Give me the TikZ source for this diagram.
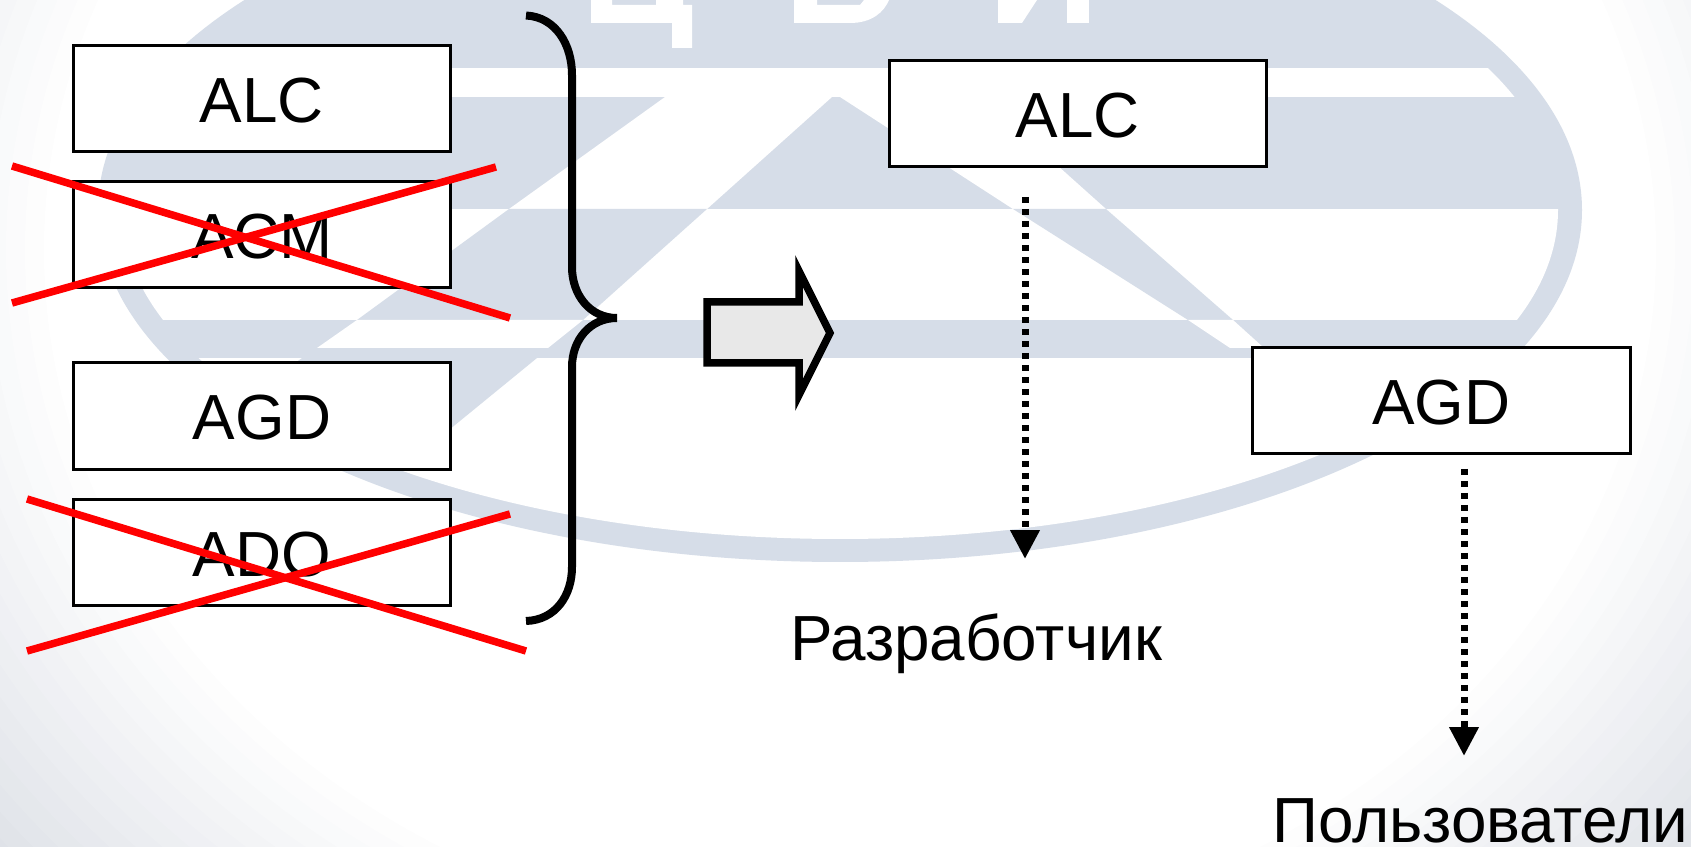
\documentclass[tikz,border=0pt]{standalone}
\usepackage{fontspec}
\setmainfont{Liberation Sans}
\usetikzlibrary{arrows.meta}
\definecolor{logoblue}{HTML}{D6DDE8}
\definecolor{edgegrey}{HTML}{DFE2E8}
\tikzset{
  modbox/.style={draw=black,line width=0.06cm,fill=white,minimum width=7.56cm,minimum height=2.14cm,inner sep=0pt,text height=27pt,text depth=0pt,font=\fontsize{36.3}{40}\selectfont},
  caption/.style={anchor=base,inner sep=0pt,font=\fontsize{36.3}{40}\selectfont},
  crossline/.style={draw=red,line width=0.15cm},
  dotarrow/.style={line width=0.14cm,dash pattern=on 0.115cm off 0.125cm,-{Triangle[length=0.58cm,width=0.56cm]}}
}
\begin{document}
\begin{tikzpicture}[x=0.02cm,y=-0.02cm]
\useasboundingbox (0,0) rectangle (1691,847);
\begin{scope}
\clip (0,0) rectangle (1691,847);
\fill[edgegrey] (0,0) rectangle (1691,847);
\foreach \i in {0,...,16}{
  \pgfmathsetmacro{\edgepct}{100-\i*100/16}
  \fill[edgegrey!\edgepct!white] (850,250) ellipse [x radius={1000*(1.11-\i*0.019)},y radius={860*(1.11-\i*0.019)}];
}
\fill[logoblue] (840,210) ellipse [x radius=742,y radius=352];
\fill[white] (840,210) ellipse [x radius=718,y radius=329];
\begin{scope}
\clip (840,210) ellipse [x radius=720,y radius=331];
\fill[logoblue] (0,0) rectangle (1691,68);
\fill[logoblue] (0,97) rectangle (1691,209);
\fill[logoblue] (0,320) rectangle (1691,358);
\fill[white] (665,97) -- (509,209) -- (707,209) -- (832,97) -- cycle;
\fill[white] (840,97) -- (1013,209) -- (1106,209) -- (981,97) -- cycle;
\fill[logoblue] (509,209) -- (357,320) -- (583,320) -- (707,209) -- cycle;
\fill[logoblue] (1013,209) -- (1188,320) -- (1233,320) -- (1106,209) -- cycle;
\fill[white] (357,320) -- (317,348) -- (548,348) -- (583,320) -- cycle;
\fill[white] (1188,320) -- (1230,348) -- (1264,348) -- (1233,320) -- cycle;
\fill[logoblue] (302,358) -- (150,469) -- (400,470) -- (537,358) -- cycle;
\end{scope}
\fill[white] (591,0) -- (591,23) -- (672,23) -- (672,48) -- (692,48) -- (692,5) -- (683,5) -- (683,0) -- (656,0) -- (656,5) -- (612,5) -- (612,0) -- cycle;
\fill[white] (794,0) -- (794,23) -- (850,23) .. controls (872,23) and (884,12) .. (889,0) -- (864,0) -- (860,5) -- (817,5) -- (817,0) -- cycle;
\fill[white] (998,0) -- (998,23) -- (1022,23) -- (1037,0) -- cycle;
\fill[white] (1067,0) rectangle (1089,23);
\end{scope}

\node[modbox] (alcleft) at (262,98.5) {ALC};
\node[modbox] (acmleft) at (262,234.5) {ACM};
\node[modbox] (agdleft) at (262,416) {AGD};
\node[modbox] (adoleft) at (262,552.5) {ADO};
\node[modbox] (alcright) at (1078,113.5) {ALC};
\node[modbox] (agdright) at (1441.5,400.5) {AGD};

\coordinate (acma) at (12,166);
\coordinate (acmb) at (510,318);
\coordinate (acmc) at (12,303);
\coordinate (acmd) at (496,167);
\draw[crossline] (acma) -- (acmb);
\draw[crossline] (acmc) -- (acmd);
\coordinate (adoa) at (27,499);
\coordinate (adob) at (526,651);
\coordinate (adoc) at (27,651);
\coordinate (adod) at (510,514);
\draw[crossline] (adoa) -- (adob);
\draw[crossline] (adoc) -- (adod);

\draw[line width=0.16cm] (526,15.5) .. controls (556,17) and (572,45) .. (572,75) -- (572,267) .. controls (572,295) and (590,318) .. (617,318);
\draw[line width=0.16cm] (617,318) .. controls (590,318) and (572,340) .. (572,367) -- (572,567) .. controls (572,595) and (556,620) .. (526,621);

\draw[line width=0.15cm,fill=black!9] (707,302) -- (799,302) -- (799,271) -- (830,333) -- (799,395) -- (799,363) -- (707,363) -- cycle;

\node[caption] (dev) at (976,661) {Разработчик};
\node[caption] (users) at (1480.5,842) {Пользователи};
\coordinate (alcstart) at (1025,197);
\coordinate (alcend) at (1025,559);
\coordinate (agdstart) at (1464,469);
\coordinate (agdend) at (1464,756);
\draw[dotarrow] (alcstart) -- (alcend);
\draw[dotarrow] (agdstart) -- (agdend);
\end{tikzpicture}
\end{document}
